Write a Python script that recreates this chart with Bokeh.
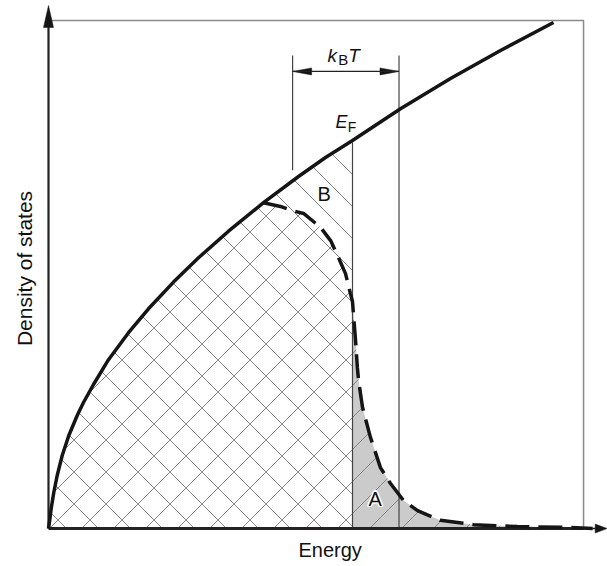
import math
from bokeh.plotting import figure
from bokeh.models import Range1d, FixedTicker, Label, Title
from bokeh.embed import file_html
from bokeh.resources import INLINE

# ---------------- data ----------------
# energy in units of E_F, density of states in units of g(E_F)
solid_E = [0.0, 0.0043, 0.0089, 0.0174, 0.0286, 0.0451, 0.0668, 0.0944, 0.1151,
           0.1480, 0.1974, 0.2632, 0.3289, 0.4112, 0.4934, 0.5921, 0.7072, 0.8224,
           0.9112, 1.0, 1.1579, 1.3224, 1.4868, 1.6612]
solid_g = [0.0, 0.0232, 0.0515, 0.0928, 0.1366, 0.1881, 0.2397, 0.2912, 0.3247,
           0.3711, 0.4351, 0.5046, 0.5662, 0.6351, 0.6977, 0.7662, 0.8397, 0.9072,
           0.9562, 1.0, 1.082, 1.160, 1.232, 1.304]

dashed_E = [0.7072, 0.763, 0.799, 0.839, 0.895, 0.928, 0.954, 0.977, 0.993, 1.0,
            1.003, 1.010, 1.016, 1.020, 1.033, 1.059, 1.092, 1.125, 1.168, 1.214,
            1.289, 1.398, 1.543, 1.707, 1.79]
dashed_g = [0.8397, 0.830, 0.820, 0.812, 0.776, 0.742, 0.698, 0.657, 0.606, 0.585,
            0.554, 0.485, 0.415, 0.381, 0.312, 0.235, 0.157, 0.116, 0.072, 0.046,
            0.021, 0.010, 0.005, 0.003, 0.0]

E_F = 1.0
kT_left, kT_right = 0.803, 1.153
X_MIN, X_MAX = -0.0263, 1.8388
Y_MIN, Y_MAX = -0.0206, 1.3608
BOX_RIGHT, BOX_TOP = 1.760, 1.309

PX_X = 304.0   # pixels per energy unit
PX_Y = 388.0   # pixels per dos unit
HATCH = 32.0   # hatch spacing (px, measured horizontally)
FONT = "Liberation Sans"

p = figure(width=607, height=566, x_range=Range1d(X_MIN, X_MAX), y_range=Range1d(Y_MIN, Y_MAX),
           output_backend="svg", toolbar_location=None,
           min_border_left=40, min_border_right=0, min_border_top=0, min_border_bottom=30)
p.grid.visible = False
p.outline_line_color = None
p.background_fill_color = "white"
p.border_fill_color = "white"

for ax in (p.xaxis, p.yaxis):
    ax.ticker = FixedTicker(ticks=[])
    ax.major_tick_line_color = None
    ax.minor_tick_line_color = None
    ax.major_label_text_font_size = "0px"
    ax.major_label_standoff = 0
    ax.major_tick_out = 0
    ax.axis_label_text_font = FONT
    ax.axis_label_text_font_style = "normal"
    ax.axis_label_text_color = "#111111"
    ax.axis_line_color = None
p.yaxis.axis_label = "Density of states"
p.yaxis.axis_label_text_font_size = "21px"
p.yaxis.axis_label_standoff = 5

# x axis title, placed below the plot
p.add_layout(Title(text="Energy", align="left", offset=258, text_font=FONT, text_font_size="20px",
                   text_font_style="normal", text_color="#111111", standoff=0), "below")

# frame box (top and right)
p.line([0, BOX_RIGHT, BOX_RIGHT], [BOX_TOP, BOX_TOP, 0], line_color="#8a8a8a", line_width=1.5)

# ---------------- areas ----------------
iF = solid_E.index(E_F)
S_x = solid_E[:iF + 1] + [E_F, 0.0]          # under the solid curve up to E_F
S_y = solid_g[:iF + 1] + [0.0, 0.0]
i0 = solid_E.index(dashed_E[0])
D_x = solid_E[:i0] + dashed_E + [dashed_E[-1], 0.0]   # under the dashed curve
D_y = solid_g[:i0] + dashed_g + [0.0, 0.0]
A_x = [e for e in dashed_E if e >= E_F] + [dashed_E[-1], E_F]   # region A
A_y = [g for e, g in zip(dashed_E, dashed_g) if e >= E_F] + [0.0, 0.0]

p.patch(A_x, A_y, fill_color="#cbcbcb", line_color=None)


def hatch(xs, ys, sign, phase):
    """45 degree hatch lines clipped to a polygon; sign=-1 -> '/', sign=+1 -> '\\'."""
    U = [x * PX_X for x in xs]
    V = [y * PX_Y for y in ys]
    F = [u + sign * v for u, v in zip(U, V)]
    n = len(U)
    k = math.ceil((min(F) - phase) / HATCH)
    x0, y0, x1, y1 = [], [], [], []
    while phase + k * HATCH <= max(F):
        c = phase + k * HATCH
        pts = []
        for i in range(n):
            j = (i + 1) % n
            f1, f2 = F[i] - c, F[j] - c
            if (f1 > 0) != (f2 > 0):
                t = f1 / (f1 - f2)
                pts.append((U[i] + t * (U[j] - U[i]), V[i] + t * (V[j] - V[i])))
        pts.sort()
        for a, b in zip(pts[0::2], pts[1::2]):
            x0.append(a[0] / PX_X); y0.append(a[1] / PX_Y)
            x1.append(b[0] / PX_X); y1.append(b[1] / PX_Y)
        k += 1
    return x0, y0, x1, y1


for xs, ys, sgn, ph in ((S_x, S_y, 1, 18.0), (D_x, D_y, -1, 1.0)):
    hx0, hy0, hx1, hy1 = hatch(xs, ys, sgn, ph)
    p.segment(x0=hx0, y0=hy0, x1=hx1, y1=hy1, line_color="#858585", line_width=1)

# ---------------- vertical guide lines ----------------
p.segment(x0=[kT_left, kT_right, E_F], y0=[0.923, 0.0, 0.0],
          x1=[kT_left, kT_right, E_F], y1=[1.219, 1.219, 0.995],
          line_color="#444444", line_width=1.2)

# ---------------- axes lines ----------------
p.segment(x0=[0.0, 0.0], y0=[0.0, 0.0], x1=[BOX_RIGHT, 0.0], y1=[0.0, 1.30],
          line_color="#222222", line_width=[2.8, 2.2])
p.segment(x0=[BOX_RIGHT], y0=[0.0], x1=[X_MAX - 0.02], y1=[0.0], line_color="#222222", line_width=1.3)

# ---------------- curves ----------------
p.line(solid_E, solid_g, line_color="#151515", line_width=3.5)
p.line(dashed_E, dashed_g, line_color="#151515", line_width=3.5, line_dash="24 9")


def tri(tx, ty, dx, dy, length, half):
    bx = tx - dx * length / PX_X
    by = ty - dy * length / PX_Y
    px_, py_ = -dy, dx
    return ([tx, bx + px_ * half / PX_X, bx - px_ * half / PX_X],
            [ty, by + py_ * half / PX_Y, by - py_ * half / PX_Y])


ARROW_Y = 1.178
heads = [tri(0.0, 1.348, 0, 1, 22, 5),
         tri(X_MAX - 0.001, 0.0, 1, 0, 12, 4.5),
         tri(kT_left, ARROW_Y, -1, 0, 19, 3.5),
         tri(kT_right, ARROW_Y, 1, 0, 19, 3.5)]
p.patches([h[0] for h in heads], [h[1] for h in heads], fill_color="#151515", line_color="#151515",
          line_width=0.5)
p.segment(x0=[kT_left], y0=[ARROW_Y], x1=[kT_right], y1=[ARROW_Y], line_color="#222222", line_width=1.2)

# ---------------- labels ----------------


def lab(x, y, t, size, style="normal", color="#111111", xo=0, yo=0):
    p.add_layout(Label(x=x, y=y, text=t, text_font=FONT, text_font_size=size,
                       text_font_style=style, text_color=color, text_align="left",
                       text_baseline="alphabetic", x_offset=xo, y_offset=yo))


lab(0.918, 1.219, "k", "19px", "italic")
lab(0.953, 1.209, "B", "15px")
lab(0.986, 1.219, "T", "19px", "italic")
lab(0.944, 1.047, "E", "18px", "italic")
lab(0.984, 1.036, "F", "14px")
lab(0.885, 0.863, "B", "20px")
for xo, yo in ((-1.5, 0), (1.5, 0), (0, -1.5), (0, 1.5), (-1, -1), (1, 1), (-1, 1), (1, -1)):
    lab(1.053, 0.0773, "A", "20px", color="white", xo=xo, yo=yo)
lab(1.053, 0.0773, "A", "20px")

open("out.html", "w").write(file_html(p, INLINE))
